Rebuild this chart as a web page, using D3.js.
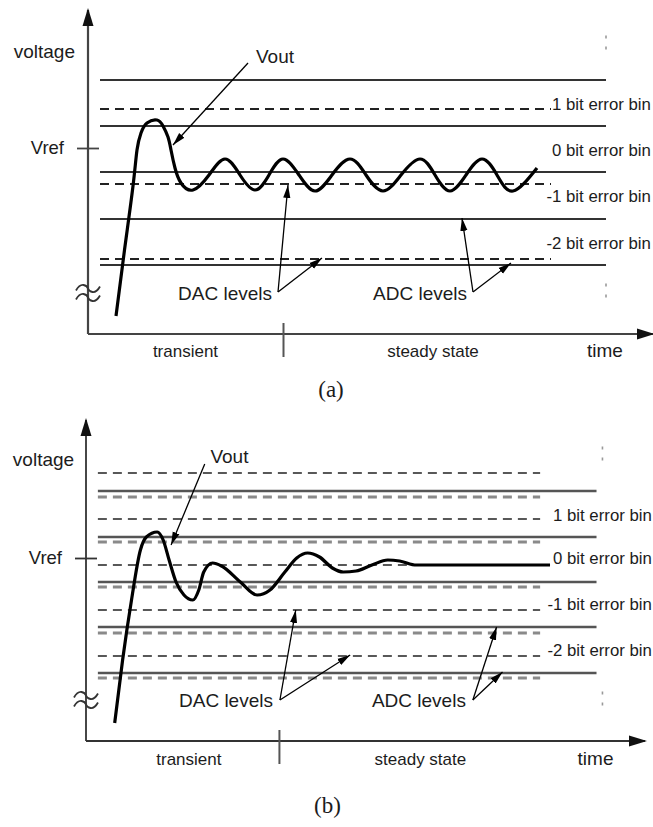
<!DOCTYPE html>
<html>
<head>
<meta charset="utf-8">
<script src="https://cdn.jsdelivr.net/npm/d3@7"></script>
<style>
  body { margin: 0; background: #fff; }
  svg { display: block; }
</style>
</head>
<body>
<div id="chart"></div>
<script>
// time and voltage are in arbitrary units, Vref = 0

// panel (a): DAC settles into a steady oscillation
const timeA = [2.8, 3.65, 4.5, 4.9, 5.3, 5.9, 6.9, 7.5, 8.0, 8.3, 8.7, 9.3, 10.5, 12.1, 13.7, 15.2, 16.7,
  18.1, 19.5, 21.1, 22.7, 24.4, 26.2, 27.8, 29.5, 31.3, 33.2, 34.7, 36.2, 37.8, 39.4, 40.9, 42.5, 44.9];
const voutA = [-16.8, -10.2, -3.8, -0.2, 1.5, 2.5, 2.8, 2.2, 1.1, -0.2, -2.0, -3.5, -4.2, -2.7, -1.1, -2.7, -4.2,
  -2.7, -1.1, -2.7, -4.3, -2.7, -1.1, -2.7, -4.3, -2.7, -1.1, -2.7, -4.3, -2.7, -1.1, -2.7, -4.3, -2.0];
const adcLevelsA = [6.8, 2.2, -2.4, -7.1, -11.7];
const dacLevelsA = [3.9, -3.6, -11.1];
const binLabelVA = [4.4, -0.2, -4.8, -9.5];

// panel (b): damped response settling on a DAC level
const timeB = [2.9, 3.7, 4.6, 5.5, 6.1, 7.2, 7.8, 8.4, 9.1, 9.9, 10.8, 11.4, 11.9, 12.8, 13.7, 15.6, 17.3,
  18.6, 20.1, 21.3, 22.4, 23.6, 24.9, 26.0, 27.3, 28.9, 30.5, 31.7, 33.4, 36.8, 46.9];
const voutB = [-16.5, -10.2, -4.2, 0.8, 2.1, 2.6, 1.8, -0.2, -2.4, -3.7, -4.2, -3.2, -1.4, -0.5, -0.8, -2.4, -3.7,
  -3.2, -1.4, 0, 0.5, 0.1, -1.0, -1.4, -1.3, -0.7, -0.2, -0.3, -0.7, -0.7, -0.7];
const dacLevelsB = [8.5, 3.9, -0.7, -5.2, -9.8];
const adcLevelsB = [6.7, 2.1, -2.4, -6.9, -11.5];
const adcShadowB = [6.1, 1.6, -2.9, -7.5, -12.0];
const binLabelVB = [4.3, 0.0, -4.6, -9.2];

const binLabels = ['1 bit error bin', '0 bit error bin', '-1 bit error bin', '-2 bit error bin'];
const phaseLabels = ['transient', 'steady state', 'time'];
const steadyStart = 19.5;
const timeDomain = [0, 56.5];

const FONT = '"Liberation Sans", Arial, Helvetica, sans-serif';
const INK = '#1c1c1c';

const svg = d3.select('#chart').append('svg')
    .attr('width', 653)
    .attr('height', 827)
    .attr('font-family', FONT);

const defs = svg.append('defs');
defs.append('marker')
    .attr('id', 'head')
    .attr('viewBox', '0 -5 14 10')
    .attr('refX', 13).attr('refY', 0)
    .attr('markerUnits', 'userSpaceOnUse')
    .attr('markerWidth', 14).attr('markerHeight', 10)
    .attr('orient', 'auto')
  .append('path')
    .attr('d', 'M0,-3.6L13,0L0,3.6Z')
    .attr('fill', '#000');
defs.append('marker')
    .attr('id', 'axisHead')
    .attr('viewBox', '0 -6 18 12')
    .attr('refX', 16).attr('refY', 0)
    .attr('markerUnits', 'userSpaceOnUse')
    .attr('markerWidth', 18).attr('markerHeight', 12)
    .attr('orient', 'auto')
  .append('path')
    .attr('d', 'M0,-5.5L18,0L0,5.5Z')
    .attr('fill', '#111');

const panels = [
  {
    title: '(a)', time: timeA, vout: voutA, curve: d3.curveNatural,
    xRange: [88, 653], vDomain: [-18.6, 13.8], yRange: [334, 10],
    levels: [
      {vals: adcLevelsA, t1: 51.8, stroke: '#333', width: 2, dash: null},
      {vals: dacLevelsA, t1: 46.3, stroke: '#222', width: 1.8, dash: '9,6'}
    ],
    binV: binLabelVA, binT: 46.4,
    axisStroke: '#444', axisWidth: 2.2,
    voltage: [-1.3, 9.0], voutLabel: [18.7, 8.5],
    voutArrow: [[16.0, 8.5], [8.5, 0.3]],
    dac: {end: [18.4, -15.2], from: [19.0, -14.4], to: [[20.0, -3.7], [23.4, -11.0]]},
    adc: {end: [37.9, -15.2], from: [38.5, -14.4], to: [[37.4, -7.0], [42.3, -11.5]]},
    phaseT: [9.75, 34.5, 51.7], phaseV: -20.9,
    titlePos: [24.3, -24.9],
    dotsT: 51.8, dotsV: [11.1, 10.0, -13.7, -14.8],
    breakV: -14.5, curveWidth: 3.2
  },
  {
    title: '(b)', time: timeB, vout: voutB, curve: d3.curveMonotoneX,
    xRange: [86, 645], vDomain: [-18.3, 13.8], yRange: [741, 420],
    levels: [
      {vals: adcShadowB, t1: 45.9, stroke: '#8a8a8a', width: 3, dash: '9,6'},
      {vals: adcLevelsB, t1: 51.6, stroke: '#555', width: 2.4, dash: null},
      {vals: dacLevelsB, t1: 45.9, stroke: '#222', width: 1.6, dash: '9,6'}
    ],
    binV: binLabelVB, binT: 47.2,
    axisStroke: '#333', axisWidth: 1.8,
    voltage: [-1.2, 9.2], voutLabel: [14.5, 9.5],
    voutArrow: [[12.0, 9.4], [8.6, 1.3]],
    dac: {end: [18.9, -14.9], from: [19.6, -14.2], to: [[21.2, -5.2], [26.7, -9.7]]},
    adc: {end: [38.4, -14.9], from: [39.1, -14.2], to: [[41.5, -6.9], [42.1, -11.4]]},
    phaseT: [10.4, 33.8, 51.5], phaseV: -20.7,
    titlePos: [24.4, -25.5],
    dotsT: 52.2, dotsV: [11.0, 9.9, -13.5, -14.6],
    breakV: -14.2, curveWidth: 3.2
  }
];

panels.forEach(drawPanel);

function drawPanel(p) {
  const g = svg.append('g');
  const x = d3.scaleLinear().domain(timeDomain).range(p.xRange);
  const y = d3.scaleLinear().domain(p.vDomain).range(p.yRange);
  const x0 = x(0), y0 = y(p.vDomain[0]);

  // quantizer levels
  p.levels.forEach(l => {
    g.append('g').selectAll('line')
      .data(l.vals)
      .join('line')
        .attr('x1', x(1.2)).attr('x2', x(l.t1))
        .attr('y1', d => y(d)).attr('y2', d => y(d))
        .attr('stroke', l.stroke)
        .attr('stroke-width', l.width)
        .attr('stroke-dasharray', l.dash);
  });

  // Vout
  const line = d3.line()
      .x(d => x(d[0]))
      .y(d => y(d[1]))
      .curve(p.curve);
  g.append('path')
      .datum(d3.zip(p.time, p.vout))
      .attr('d', line)
      .attr('fill', 'none')
      .attr('stroke', '#000')
      .attr('stroke-width', p.curveWidth)
      .attr('stroke-linejoin', 'round');

  // axes
  g.append('line')
      .attr('x1', x0).attr('y1', y0)
      .attr('x2', x0).attr('y2', y(p.vDomain[1]))
      .attr('stroke', p.axisStroke).attr('stroke-width', p.axisWidth)
      .attr('marker-end', 'url(#axisHead)');
  g.append('line')
      .attr('x1', x0).attr('y1', y0)
      .attr('x2', x(timeDomain[1])).attr('y2', y0)
      .attr('stroke', p.axisStroke).attr('stroke-width', p.axisWidth)
      .attr('marker-end', 'url(#axisHead)');

  const yAxis = d3.axisLeft(y).tickValues([0]).tickFormat(() => 'Vref')
      .tickSize(11).tickPadding(13);
  const ya = g.append('g')
      .attr('transform', 'translate(' + x0 + ',0)')
      .call(yAxis)
      .attr('font-family', FONT).attr('font-size', 18.5);
  ya.select('.domain').remove();
  ya.selectAll('line').attr('x1', 11).attr('stroke', p.axisStroke).attr('stroke-width', 1.8);
  ya.selectAll('text').attr('fill', INK);

  const xAxis = d3.axisBottom(x).tickValues([steadyStart]).tickFormat('')
      .tickSizeInner(23).tickSizeOuter(0);
  const xa = g.append('g')
      .attr('transform', 'translate(0,' + y0 + ')')
      .call(xAxis);
  xa.select('.domain').remove();
  xa.selectAll('line').attr('y1', -11).attr('stroke', '#555').attr('stroke-width', 2);

  // axis break
  const by = y(p.breakV);
  [-4.5, 4.5].forEach(off => {
    g.append('path')
        .attr('d', 'M' + (x0 - 12) + ',' + (by + off + 2) +
          'C' + (x0 - 7) + ',' + (by + off - 7) + ' ' + (x0 - 1) + ',' + (by + off - 3) + ' ' + x0 + ',' + (by + off) +
          'S' + (x0 + 7) + ',' + (by + off + 7) + ' ' + (x0 + 12) + ',' + (by + off - 2))
        .attr('fill', 'none')
        .attr('stroke', '#333')
        .attr('stroke-width', 1.8);
  });

  // continuation dots
  g.append('g').selectAll('rect')
    .data(p.dotsV)
    .join('rect')
      .attr('x', x(p.dotsT) - 0.8).attr('y', d => y(d) - 1.5)
      .attr('width', 1.6).attr('height', 3)
      .attr('fill', '#999');

  // bin labels
  g.append('g').selectAll('text')
    .data(binLabels)
    .join('text')
      .attr('x', x(p.binT))
      .attr('y', (d, i) => y(p.binV[i]))
      .attr('dy', '0.35em')
      .attr('dx', d => d[0] === '-' ? '-0.33em' : 0)
      .attr('font-size', 16.8)
      .attr('fill', INK)
      .text(d => d);

  // text labels
  g.append('text')
      .attr('x', x(p.voltage[0])).attr('y', y(p.voltage[1]))
      .attr('text-anchor', 'end').attr('font-size', 19).attr('fill', INK)
      .text('voltage');
  g.append('text')
      .attr('x', x(p.voutLabel[0])).attr('y', y(p.voutLabel[1]))
      .attr('text-anchor', 'middle').attr('font-size', 19).attr('fill', INK)
      .text('Vout');

  const arrow = (a, b) => g.append('line')
      .attr('x1', x(a[0])).attr('y1', y(a[1]))
      .attr('x2', x(b[0])).attr('y2', y(b[1]))
      .attr('stroke', '#000').attr('stroke-width', 1.3)
      .attr('marker-end', 'url(#head)');
  arrow(p.voutArrow[0], p.voutArrow[1]);

  [['DAC levels', p.dac], ['ADC levels', p.adc]].forEach(([label, c]) => {
    g.append('text')
        .attr('x', x(c.end[0])).attr('y', y(c.end[1]))
        .attr('text-anchor', 'end').attr('font-size', 19).attr('fill', INK)
        .text(label);
    c.to.forEach(t => arrow(c.from, t));
  });

  g.append('g').selectAll('text')
    .data(phaseLabels)
    .join('text')
      .attr('x', (d, i) => x(p.phaseT[i]))
      .attr('y', y(p.phaseV))
      .attr('text-anchor', 'middle')
      .attr('font-size', d => d === 'time' ? 19 : 17)
      .attr('fill', INK)
      .text(d => d);

  g.append('text')
      .attr('x', x(p.titlePos[0])).attr('y', y(p.titlePos[1]))
      .attr('text-anchor', 'middle')
      .attr('font-family', '"Liberation Serif", "Times New Roman", serif')
      .attr('font-size', 23).attr('fill', INK)
      .text(p.title);
}
</script>
</body>
</html>
